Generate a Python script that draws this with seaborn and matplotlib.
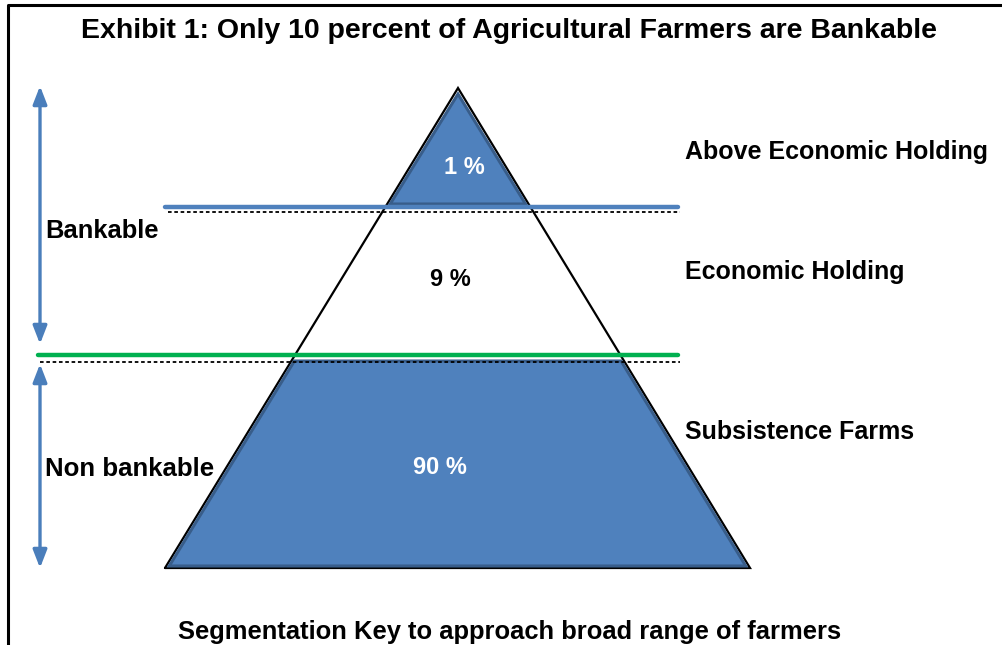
import matplotlib
matplotlib.use("Agg")
import matplotlib.pyplot as plt
import seaborn as sns
import pandas as pd

# ---- data ----
segment_names = ["Above Economic Holding", "Economic Holding", "Subsistence Farms"]
segment_pcts = [1, 9, 90]
segment_pct_labels = ["1 %", "9 %", "90 %"]
group_names = ["Bankable", "Non bankable"]
title_text = "Exhibit 1: Only 10 percent of Agricultural Farmers are Bankable"
footer_text = "Segmentation Key to approach broad range of farmers"

sns.set_theme(style="white")
FONT = ["Liberation Sans", "DejaVu Sans"]
plt.rcParams["font.family"] = FONT
plt.rcParams["text.color"] = "black"

fig = plt.figure(figsize=(10.02, 6.45), dpi=100)
ax = fig.add_axes([0, 0, 1, 1])
ax.set_xlim(0, 1002)
ax.set_ylim(645, 0)
ax.axis("off")

BLUE = "#4F81BD"
DARK = "#385D8A"
GREEN = "#00B050"
ARROW = "#4A7EBB"

# frame
ax.plot([8, 8, 1002], [645, 5, 5], color="black", lw=2.2, solid_capstyle="butt")

apex = (458, 88)
base_l, base_r, base_y = 165, 750, 568
cut1, cut2 = 207, 357

def xl(y):
    return apex[0] - (apex[0] - base_l) * (y - apex[1]) / (base_y - apex[1])

def xr(y):
    return apex[0] + (base_r - apex[0]) * (y - apex[1]) / (base_y - apex[1])

# black outline of the full pyramid
ax.plot([base_l, apex[0], base_r, base_l], [base_y, apex[1], base_y, base_y],
        color="black", lw=1.6, solid_joinstyle="miter")

# top triangle
ins = 3
tx = [apex[0], xr(cut1 - ins) - ins, xl(cut1 - ins) + ins]
ty = [apex[1] + ins * 2, cut1 - ins, cut1 - ins]
ax.fill(tx, ty, facecolor=BLUE, edgecolor=DARK, lw=2.2, zorder=3)

# bottom trapezoid
y0, y1 = cut2 + 4, base_y - 2
bx = [xl(y0) + ins, xr(y0) - ins, xr(y1) - ins, xl(y1) + ins]
by = [y0, y0, y1, y1]
ax.fill(bx, by, facecolor=BLUE, edgecolor=DARK, lw=2.2, zorder=3)

# separator lines
lines = pd.DataFrame({
    "x": [165, 678, 38, 678],
    "y": [cut1, cut1, cut2 - 2, cut2 - 2],
    "line": ["a", "a", "b", "b"],
})
sns.lineplot(data=lines, x="x", y="y", hue="line", palette=[BLUE, GREEN],
             lw=3.2, legend=False, ax=ax, zorder=4, sort=False)
ax.plot([168, 680], [cut1 + 5, cut1 + 5], color="black", lw=1.3, ls=(0, (2, 1.5)), zorder=4)
ax.plot([40, 680], [cut2 + 5, cut2 + 5], color="black", lw=1.3, ls=(0, (2, 1.5)), zorder=4)
ax.set_xlim(0, 1002)
ax.set_ylim(645, 0)

# arrows
for (ya, yb) in [(86, 344), (364, 568)]:
    ax.annotate("", xy=(40, ya), xytext=(40, yb),
                arrowprops=dict(arrowstyle="<|-|>,head_length=0.9,head_width=0.35",
                                color=ARROW, lw=2.4, shrinkA=0, shrinkB=0))

# text
ax.text(509, 31, title_text, ha="center", va="center", fontsize=20.5, fontweight="bold")
ax.text(510, 632, footer_text, ha="center", va="center", fontsize=18.4, fontweight="bold")
ax.text(45, 231, group_names[0], ha="left", va="center", fontsize=18.4, fontweight="bold")
ax.text(45, 469, group_names[1], ha="left", va="center", fontsize=18.6, fontweight="bold")

label_y = [152, 272, 432]
for name, yy in zip(segment_names, label_y):
    ax.text(685, yy, name, ha="left", va="center", fontsize=18, fontweight="bold")

pct_pos = [(464, 168, "white"), (450, 279, "black"), (440, 468, "white")]
for lab, (px, py, c) in zip(segment_pct_labels, pct_pos):
    ax.text(px, py, lab, ha="center", va="center", fontsize=17, fontweight="bold", color=c, zorder=5)

fig.savefig("out.png", dpi=100)
